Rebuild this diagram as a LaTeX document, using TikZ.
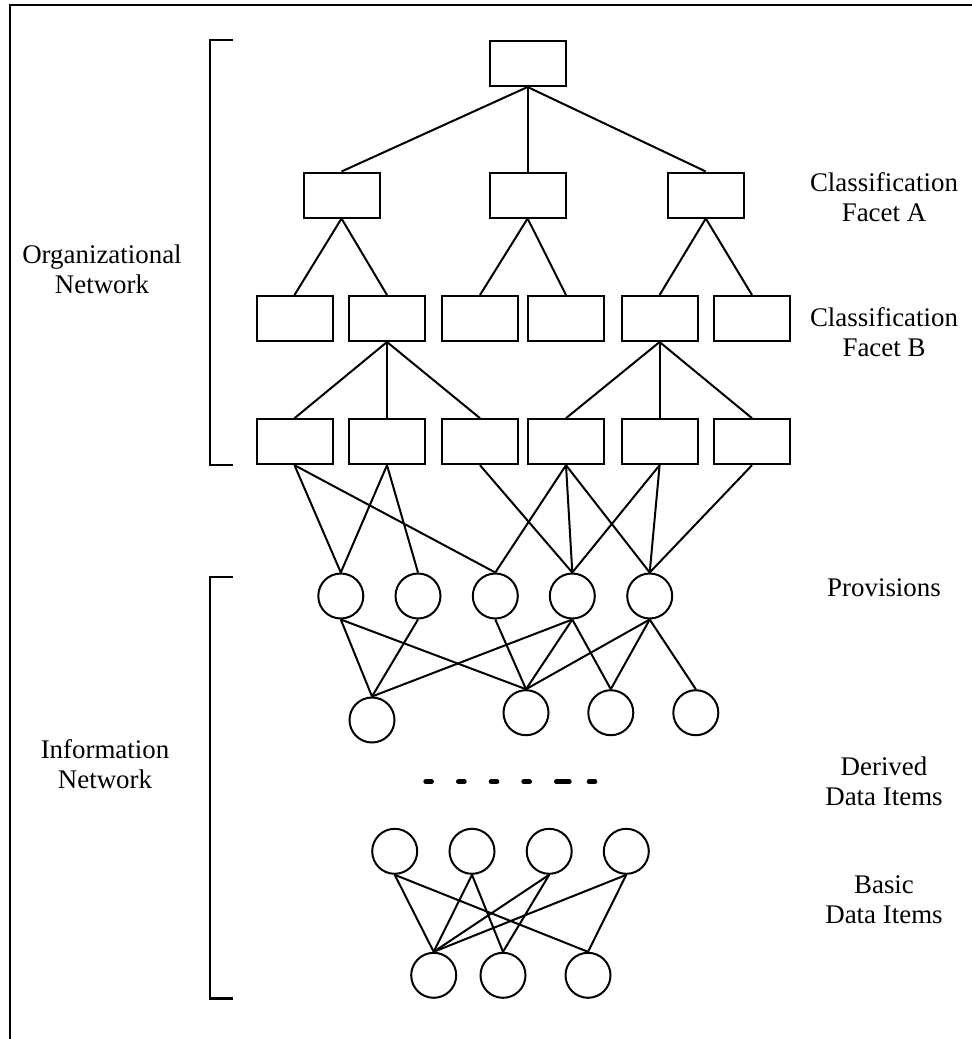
\documentclass[tikz,border=0pt]{standalone}
\usepackage{fontspec}
\setmainfont{Liberation Serif}
\begin{document}
\begin{tikzpicture}[x=1pt,y=-1pt,
  box/.style={draw, line width=2pt, minimum width=76pt, minimum height=45pt, inner sep=0pt},
  item/.style={draw, circle, line width=2pt, minimum size=45pt, inner sep=0pt},
  link/.style={line width=2pt},
  bracketline/.style={line width=2.5pt},
  framerule/.style={line width=2.5pt},
  dots/.style={line width=5pt, line cap=round},
  lbl/.style={align=center, font=\fontsize{26.9pt}{30pt}\selectfont, inner sep=0pt},
]
\useasboundingbox (0,0) rectangle (972,1039);

% outer frame (open at right and bottom)
\draw[framerule] (10,1045) -- (10,5) -- (980,5);

% organizational network: classification hierarchy
\node[box] (top) at (527.6,63.5) {};
\node[box] (a1) at (341.5,195) {};
\node[box] (a2) at (527.6,195) {};
\node[box] (a3) at (705.8,195) {};
\foreach \x [count=\i] in {294.5,387,480,566,659.6,752} {
  \node[box] (b\i) at (\x,318.5) {};
  \node[box] (c\i) at (\x,441.7) {};
}

% information network: provisions, derived and basic data items
\foreach \x [count=\i] in {340.8,418,495.3,572.3,649.7}
  \node[item] (p\i) at (\x,596) {};
\node[item] (d1) at (372,720) {};
\node[item] (d2) at (526,712.7) {};
\node[item] (d3) at (610.8,712.7) {};
\node[item] (d4) at (695.8,712.7) {};
\foreach \x [count=\i] in {394.7,472,549.2,626.3}
  \node[item] (e\i) at (\x,851.3) {};
\foreach \x [count=\i] in {433.7,503,588}
  \node[item] (f\i) at (\x,975.3) {};

% hierarchy links
\foreach \n in {a1,a2,a3} \draw[link] (top.south) -- (\n.north);
\draw[link] (a1.south) -- (b1.north);
\draw[link] (a1.south) -- (b2.north);
\draw[link] (a2.south) -- (b3.north);
\draw[link] (a2.south) -- (b4.north);
\draw[link] (a3.south) -- (b5.north);
\draw[link] (a3.south) -- (b6.north);
\foreach \n in {c1,c2,c3} \draw[link] (b2.south) -- (\n.north);
\foreach \n in {c4,c5,c6} \draw[link] (b5.south) -- (\n.north);

% classification to provisions
\draw[link] (c1.south) -- (p1.north);
\draw[link] (c1.south) -- (p3.north);
\draw[link] (c2.south) -- (p1.north);
\draw[link] (c2.south) -- (p2.north);
\draw[link] (c3.south) -- (p4.north);
\draw[link] (c4.south) -- (p3.north);
\draw[link] (c4.south) -- (p4.north);
\draw[link] (c4.south) -- (p5.north);
\draw[link] (c5.south) -- (p4.north);
\draw[link] (c5.south) -- (p5.north);
\draw[link] (c6.south) -- (p5.north);

% provisions to derived items
\draw[link] (p1.south) -- (d1.north);
\draw[link] (p1.south) -- (d2.north);
\draw[link] (p2.south) -- (d1.north);
\draw[link] (p3.south) -- (d2.north);
\draw[link] (p4.south) -- (d1.north);
\draw[link] (p4.south) -- (d2.north);
\draw[link] (p4.south) -- (d3.north);
\draw[link] (p5.south) -- (d2.north);
\draw[link] (p5.south) -- (d3.north);
\draw[link] (p5.south) -- (d4.north);

% derived to basic items
\draw[link] (e1.south) -- (f1.north);
\draw[link] (e1.south) -- (f3.north);
\draw[link] (e2.south) -- (f1.north);
\draw[link] (e2.south) -- (f2.north);
\draw[link] (e3.south) -- (f1.north);
\draw[link] (e3.south) -- (f2.north);
\draw[link] (e4.south) -- (f1.north);
\draw[link] (e4.south) -- (f3.north);

% ellipsis between the derived levels
\foreach \a/\b in {425.8/431.5,458.5/464.2,491.2/496.8,523.8/529.5,556.5/569.2,589.2/594.8}
  \draw[dots] (\a,781.7) -- (\b,781.7);

% brackets
\draw[bracketline] (233,40) -- (210,40) -- (210,465) -- (233,465);
\draw[bracketline] (233,577) -- (210,577) -- (210,998.5) -- (233,998.5);

% labels
\node[lbl] (orgnet) at (102,269) {Organizational\\Network};
\node[lbl] (infonet) at (105,764) {Information\\Network};
\node[lbl] (facA) at (884,197.5) {Classification\\Facet A};
\node[lbl] (facB) at (884,332.5) {Classification\\Facet B};
\node[lbl] (prov) at (884,587.5) {Provisions};
\node[lbl] (deriv) at (884,781) {Derived\\Data Items};
\node[lbl] (basic) at (884,900) {Basic\\Data Items};
\end{tikzpicture}
\end{document}
